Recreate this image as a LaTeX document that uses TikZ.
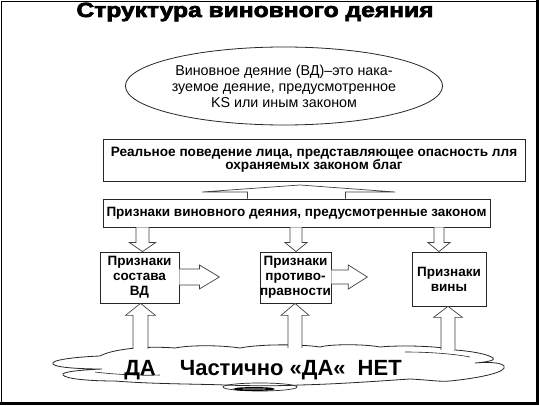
\documentclass[tikz,border=0pt]{standalone}
\usepackage{fontspec}
\setmainfont{Liberation Sans}
\newfontfamily\titlefont[FakeBold=3]{Liberation Sans Bold}
\usetikzlibrary{calc,shapes.geometric}
\newcommand\blockarrow[5]{% start, tip, shaft half, head half, head length
  \coordinate (hb) at ($(#2)!#5pt!(#1)$);
  \fill[white] ($(#1)!#3pt!90:(#2)$) -- ($(hb)!#3pt!90:(#2)$) -- ($(hb)!#4pt!90:(#2)$) -- (#2)
     -- ($(hb)!#4pt!-90:(#2)$) -- ($(hb)!#3pt!-90:(#2)$) -- ($(#1)!#3pt!-90:(#2)$) -- cycle;
  \draw[barrow] ($(#1)!#3pt!90:(#2)$) -- ($(hb)!#3pt!90:(#2)$) -- ($(hb)!#4pt!90:(#2)$) -- (#2)
     -- ($(hb)!#4pt!-90:(#2)$) -- ($(hb)!#3pt!-90:(#2)$) -- ($(#1)!#3pt!-90:(#2)$);
}
\begin{document}
\begin{tikzpicture}[x=1pt,y=-1pt,
  box/.style={draw=black!85, line width=0.8pt, fill=white, inner sep=0pt, align=center,
    font=\fontsize{13.5}{15}\selectfont\bfseries},
  barrow/.style={draw=black!75, line width=0.7pt, line join=miter},
  cloudline/.style={draw=black!85, line width=0.8pt, fill=white},
]
\useasboundingbox (0,0) rectangle (539,406);
% frame
\draw[line width=1pt] (1.5,404) -- (1.5,1.5) -- (537,1.5);
\draw[line width=3pt] (537,0.5) -- (537,403.5) -- (0,403.5);

% title
\node[anchor=base, inner sep=0pt, font=\fontsize{20.5}{24}\selectfont\titlefont] (title) at (255,17)
  {\scalebox{1.2}[1]{Структура виновного деяния}};

% definition ellipse
\node[draw=black!85, line width=0.8pt, ellipse, minimum width=257, minimum height=78, inner sep=0pt,
  align=center, font=\fontsize{14.3}{16}\selectfont] (def) at (284,86)
  {Виновное деяние (ВД)–это нака-\\зуемое деяние, предусмотренное\\KS или иным законом};

% boxes
\node[box, minimum width=422, minimum height=42, font=\fontsize{13.6}{13}\selectfont\bfseries] (real) at (314,160)
  {Реальное поведение лица, представляющее опасность лля\\охраняемых законом благ};
\node[box, minimum width=387, minimum height=28] (signs) at (296.5,213)
  {Признаки виновного деяния, предусмотренные законом};
\node[box, minimum width=79, minimum height=51] (a) at (139.5,277.5) {Признаки\\состава\\ВД};
\node[box, minimum width=69, minimum height=51] (b) at (295.5,277.5) {Признаки\\противо-\\правности};
\node[box, minimum width=74, minimum height=54] (c) at (449,279) {Признаки\\вины};

% wide arrow from signs up towards real
\coordinate (wt) at (300,185);
\fill[white] ([xshift=-49pt]signs.north) -- ([xshift=-49pt]signs.north |- 0,192) -- (202,192) -- (wt)
  -- (395,192) -- ([xshift=49pt]signs.north |- 0,192) -- ([xshift=49pt]signs.north) -- cycle;
\draw[barrow] ([xshift=-49pt]signs.north) -- ([xshift=-49pt]signs.north |- 0,192) -- (202,192) -- (wt)
  -- (395,192) -- ([xshift=49pt]signs.north |- 0,192) -- ([xshift=49pt]signs.north);

% down arrows from signs to boxes
\coordinate (d1e) at ([xshift=3pt]a.north);  \coordinate (d1s) at (d1e |- signs.south);
\coordinate (d2e) at ([xshift=0.5pt]b.north); \coordinate (d2s) at (d2e |- signs.south);
\coordinate (d3e) at ([xshift=-10pt]c.north); \coordinate (d3s) at (d3e |- signs.south);
\blockarrow{d1s}{d1e}{6.5}{13}{9}
\blockarrow{d2s}{d2e}{6}{11}{9}
\blockarrow{d3s}{d3e}{5}{11}{9}

% right arrows from a and b
\coordinate (ra) at ([xshift=40pt,yshift=0.5pt]a.east);
\coordinate (rb) at ([xshift=36pt,yshift=0.5pt]b.east);
\blockarrow{[yshift=0.5pt]a.east}{ra}{8}{12}{20}
\blockarrow{[yshift=0.5pt]b.east}{rb}{7}{12}{19}

% cloud
\draw[cloudline] (100,356)
 .. controls (75,357) and (50,360) .. (53,364)
 .. controls (56,368) and (85,369) .. (102,369)
 .. controls (80,370) and (60,372) .. (63,375)
 .. controls (66,379) and (90,381) .. (115,381)
 .. controls (150,384) and (200,384) .. (225,385)
 .. controls (250,386) and (280,386) .. (300,385)
 .. controls (340,384) and (380,381) .. (410,379)
 .. controls (430,380) and (440,382) .. (450,381)
 .. controls (480,378) and (508,372) .. (504,366)
 .. controls (501,362) and (485,362) .. (475,363)
 .. controls (488,362) and (496,360) .. (493,358)
 .. controls (488,354) and (470,351) .. (455,350)
 .. controls (440,346) and (400,345) .. (380,347)
 .. controls (365,344) and (330,344) .. (320,347)
 .. controls (300,344) and (260,344) .. (240,348)
 .. controls (220,345) and (190,345) .. (175,348)
 .. controls (150,346) and (115,348) .. (100,356) -- cycle;
\draw[black!85, line width=0.6pt] (95,372) .. controls (110,374) and (140,376) .. (160,375);
\draw[black!85, line width=0.6pt] (405,352) .. controls (430,352) and (455,354) .. (470,357);
\draw[black!85, line width=0.7pt] (260,387) ellipse [x radius=37, y radius=4];
\draw[black, line width=1.4pt] (254,389) ellipse [x radius=19, y radius=1.2];

% up arrows from cloud
\coordinate (u1s) at ([xshift=1pt]a.south |- 0,349);
\coordinate (u2s) at ([xshift=-0.5pt]b.south |- 0,348);
\coordinate (u3s) at ([xshift=-1pt]c.south |- 0,350);
\blockarrow{u1s}{[xshift=1pt]a.south}{7.5}{15}{12}
\blockarrow{u2s}{[xshift=-0.5pt]b.south}{7}{14}{12}
\blockarrow{u3s}{[xshift=-1pt]c.south}{7}{14.5}{11}

% answers
\node[anchor=base, inner sep=0pt, font=\fontsize{22}{24}\selectfont\bfseries] (ans) at (263,376)
  {ДА\hspace{24pt}Частично «ДА«\hspace{12pt}НЕТ};
\end{tikzpicture}
\end{document}
